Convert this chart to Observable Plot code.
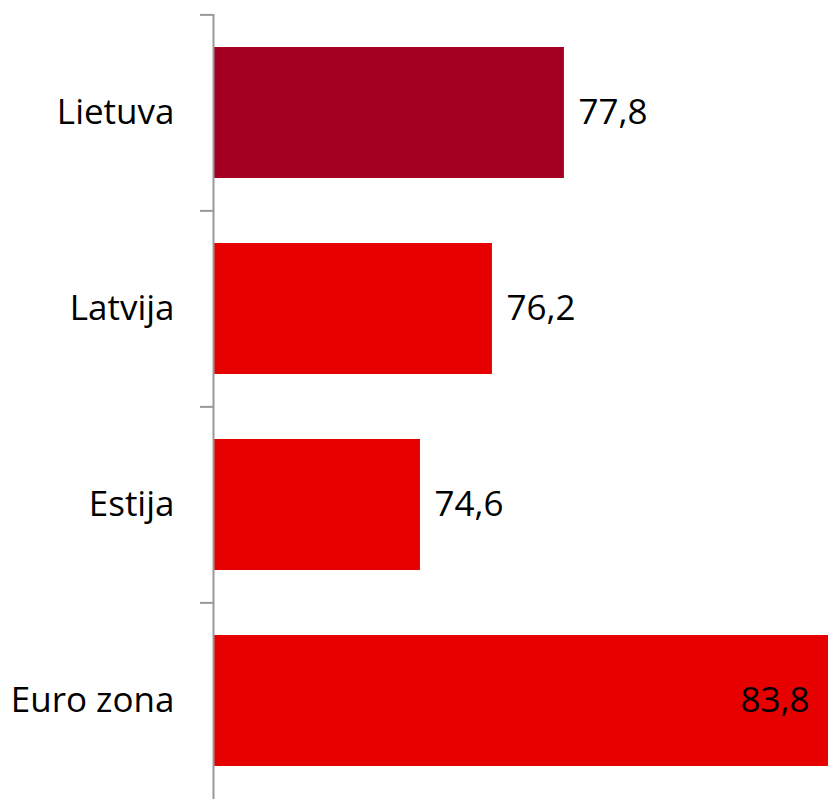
<!DOCTYPE html>
<html>
<head>
<meta charset="utf-8">
<script src="https://cdn.jsdelivr.net/npm/d3@7"></script>
<script src="https://cdn.jsdelivr.net/npm/@observablehq/plot@0.6"></script>
<style>
  html, body { margin: 0; padding: 0; background: #fff; }
  #chart svg { display: block; }
</style>
</head>
<body>
<div id="chart"></div>
<script>
const categories = ["Lietuva", "Latvija", "Estija", "Euro zona"];
const values = [77.8, 76.2, 74.6, 83.8];
const valueLabels = ["77,8", "76,2", "74,6", "83,8"];
const barColors = ["#A50021", "#E60000", "#E60000", "#E60000"];
const xMin = 70;
const xMax = 83.67;

const data = categories.map((c, i) => ({
  cat: c, value: values[i], label: valueLabels[i], color: barColors[i], inside: values[i] > xMax
}));

const W = 828, H = 799, mTop = 14, mLeft = 213;
const step = (H - mTop) / categories.length;
const font = "Open Sans, Noto Sans, sans-serif";

const chart = Plot.plot({
  width: W,
  height: H,
  marginTop: mTop,
  marginBottom: 0,
  marginLeft: mLeft,
  marginRight: 0,
  style: { fontFamily: font, background: "white" },
  x: { domain: [xMin, xMax], clamp: true, axis: null },
  y: { domain: categories, paddingInner: 1/3, paddingOuter: 1/6, label: null },
  marks: [
    Plot.barX(data, { y: "cat", x1: () => xMin, x2: "value", fill: "color" }),
    Plot.axisY({ tickSize: 13, tickFormat: () => null, stroke: "#999", strokeWidth: 2, dy: -step / 2 }),
    Plot.axisY({ tickSize: 0, tickPadding: 39, fontSize: 35, fill: "black", label: null }),
    Plot.ruleX([xMin], { stroke: "#999", strokeWidth: 2 }),
    Plot.text(data.filter(d => !d.inside), { y: "cat", x: "value", text: "label", textAnchor: "start", dx: 14, fontSize: 35, fill: "black" }),
    Plot.text(data.filter(d => d.inside), { y: "cat", x: "value", text: "label", textAnchor: "end", dx: -19, fontSize: 35, fill: "black" })
  ]
});
document.getElementById("chart").appendChild(chart);
</script>
</body>
</html>
